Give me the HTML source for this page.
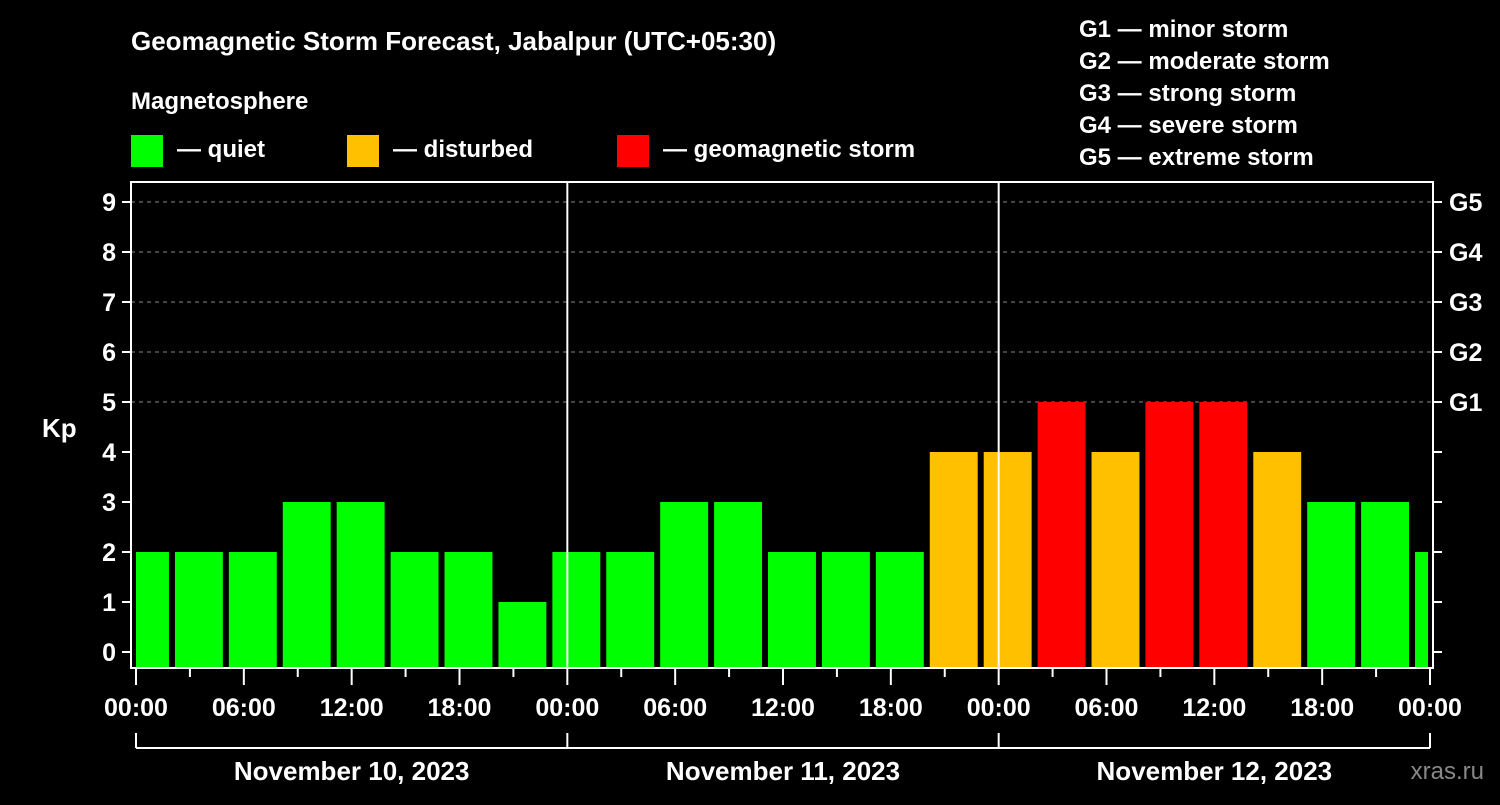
<!DOCTYPE html>
<html><head><meta charset="utf-8"><style>
body{margin:0;background:#000;width:1500px;height:800px;overflow:hidden}
svg text{font-family:"Liberation Sans",sans-serif;font-weight:bold;fill:#fff}
</style></head><body>
<svg id="c" width="1500" height="800" xmlns="http://www.w3.org/2000/svg">
<rect width="1500" height="800" fill="#000"/>
<text x="131" y="50" font-size="26">Geomagnetic Storm Forecast, Jabalpur (UTC+05:30)</text>
<text x="131" y="109" font-size="24">Magnetosphere</text>
<rect x="131" y="135" width="32" height="32" fill="#00ff00"/>
<text x="177" y="157" font-size="24">— quiet</text>
<rect x="347" y="135" width="32" height="32" fill="#ffc000"/>
<text x="393" y="157" font-size="24">— disturbed</text>
<rect x="617" y="135" width="32" height="32" fill="#ff0000"/>
<text x="663" y="157" font-size="24">— geomagnetic storm</text>
<g font-size="24">
<text x="1079" y="37">G1 — minor storm</text>
<text x="1079" y="69">G2 — moderate storm</text>
<text x="1079" y="101">G3 — strong storm</text>
<text x="1079" y="133">G4 — severe storm</text>
<text x="1079" y="165">G5 — extreme storm</text>
</g>
<text x="42" y="437" font-size="26">Kp</text>
<text x="1484" y="779" font-size="24" fill="#888" style="fill:#888;font-weight:normal" text-anchor="end">xras.ru</text>
<g id="plot"></g>
</svg>
<script>
const kpValues=[2,2,2,3,3,2,2,1,2,2,3,3,2,2,2,4,4,5,4,5,5,4,3,3,2];
const dayLabels=["November 10, 2023","November 11, 2023","November 12, 2023"];
const gLabels=["G1","G2","G3","G4","G5"];
const hourLabels=["00:00","06:00","12:00","18:00"];
const X0=136,X1=1430,HOURS=72,Y0=652,PER=50,PB=668,PT=182,PL=131,PR=1433;
const xs=h=>X0+(X1-X0)*h/HOURS;
const ys=v=>Y0-PER*v;
const ns="http://www.w3.org/2000/svg",g=document.getElementById('plot');
function mk(t,a){const e=document.createElementNS(ns,t);for(const k in a)e.setAttribute(k,a[k]);g.appendChild(e);return e;}
// grid
for(let v=5;v<=9;v++){const l=mk('line',{x1:PL,x2:PR,y1:ys(v),y2:ys(v),stroke:'#888','stroke-dasharray':'4,4','stroke-width':1});

}
// bars
kpValues.forEach((v,i)=>{
 const s=Math.max(0,-1+3*i),e=Math.min(HOURS,2+3*i);
 const x1=xs(s)+(s>0?3:0),x2=xs(e)-(e<HOURS?3:2);
 const col=v>=5?'#ff0000':v>=4?'#ffc000':'#00ff00';
 const r=mk('rect',{x:x1,y:ys(v),width:x2-x1,height:PB-ys(v),fill:col});
 
 
});
// day separators
[1,2].forEach(d=>{const l=mk('line',{x1:xs(24*d),x2:xs(24*d),y1:PT,y2:PB,stroke:'#fff','stroke-width':2});

});
// frame
const f=mk('rect',{x:PL,y:PT,width:PR-PL,height:PB-PT,fill:'none',stroke:'#fff','stroke-width':2});


// y ticks
for(let v=0;v<=9;v++){
 mk('line',{x1:PL-9,x2:PL,y1:ys(v),y2:ys(v),stroke:'#fff','stroke-width':2});
 mk('line',{x1:PR,x2:PR+9,y1:ys(v),y2:ys(v),stroke:'#fff','stroke-width':2});
 const t=mk('text',{x:116,y:ys(v)+9,'font-size':25,'text-anchor':'end'});t.textContent=v;
 
 
 if(v>=5){const gt=mk('text',{x:1449,y:ys(v)+9,'font-size':25});gt.textContent=gLabels[v-5];
 
 }
}
// x ticks
for(let h=0;h<=HOURS;h+=3){
 const major=h%6===0;
 mk('line',{x1:xs(h),x2:xs(h),y1:PB,y2:PB+(major?17:9),stroke:'#fff','stroke-width':2});
 if(major){const t=mk('text',{x:xs(h),y:716,'font-size':25,'text-anchor':'middle'});t.textContent=hourLabels[(h/6)%4];
 
 }
}
// date bracket
mk('line',{x1:X0,x2:X1,y1:748,y2:748,stroke:'#fff','stroke-width':2});
for(let d=0;d<=3;d++)mk('line',{x1:xs(24*d),x2:xs(24*d),y1:733,y2:748,stroke:'#fff','stroke-width':2});
dayLabels.forEach((s,d)=>{const t=mk('text',{x:xs(24*d+12),y:780,'font-size':26,'text-anchor':'middle'});t.textContent=s;

});
</script>
</body></html>
